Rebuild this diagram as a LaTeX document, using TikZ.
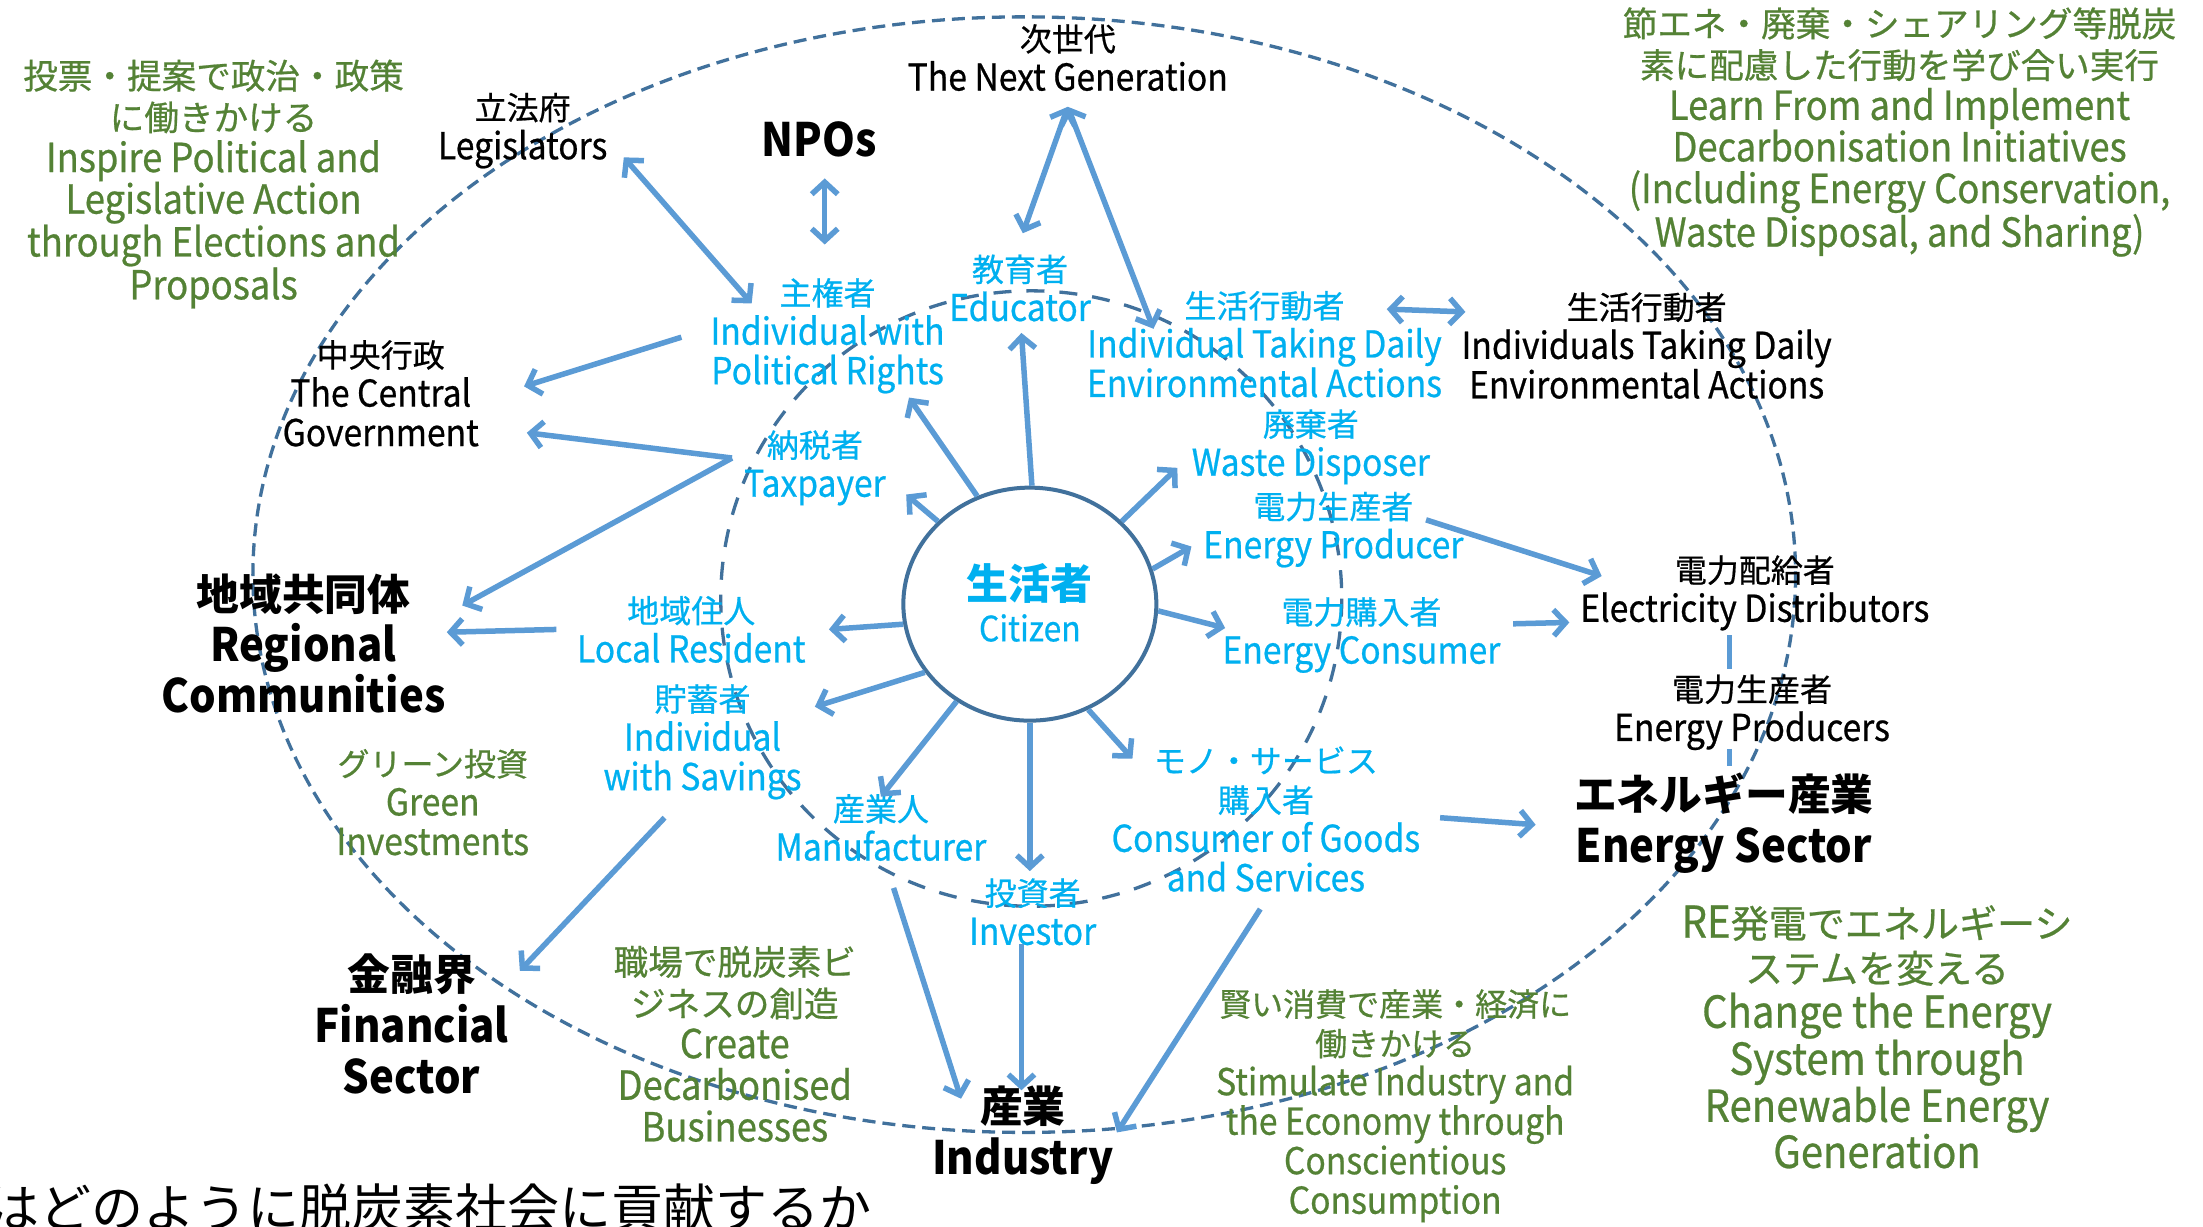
\documentclass[tikz,border=0pt]{standalone}
\usepackage{fontspec}
\setmainfont{Noto Sans CJK JP}[FakeStretch=0.91,UprightFeatures={FakeBold=0.6}]
\newfontfamily\jpfont{Noto Sans CJK JP}[Scale=0.865,UprightFeatures={FakeBold=0.6}]
\newfontfamily\jpbigfont{Noto Sans CJK JP}[Scale=0.93]
\newfontfamily\jpraw{Noto Sans CJK JP}
\usetikzlibrary{arrows.meta,shapes.geometric}
\definecolor{grn}{HTML}{548235}
\definecolor{cyn}{HTML}{00B0F0}
\definecolor{arw}{HTML}{5B9BD5}
\definecolor{dsh}{HTML}{41719C}
\newcommand\jp[1]{{\jpfont #1}}
\newcommand\jpb[1]{{\jpbigfont\bfseries #1}}
\begin{document}
\begin{tikzpicture}[x=1.405pt,y=-1.405pt,
  lbl/.style={align=center,inner sep=0pt,font=\fontsize{37}{39.5}\selectfont},
  big/.style={align=center,inner sep=0pt,text=black,font=\bfseries\fontsize{46}{51.3}\selectfont},
  blk/.style={lbl,text=black},
  cy/.style={lbl,text=cyn},
  gr/.style={lbl,text=grn},
  grl/.style={align=center,inner sep=0pt,text=grn,font=\fontsize{40}{41.6}\selectfont},
  grx/.style={align=center,inner sep=0pt,text=grn,font=\fontsize{44}{45}\selectfont},
  tipb/.tip={Straight Barb[length=12pt,width=26pt]},
  arr/.style={draw=arw,line width=5.5pt,-tipb},
  darr/.style={draw=arw,line width=5.5pt,tipb-tipb},
  ln/.style={draw=arw,line width=4.5pt},
]
\fill[white] (0,0) rectangle (1568,873);
\useasboundingbox (0,0) rectangle (1568,873);

% dashed ellipses
\draw[dsh,line width=3.3pt,dash pattern=on 13pt off 7pt] (729,409) ellipse [x radius=549,y radius=397];
\draw[dsh,line width=3.3pt,dash pattern=on 18pt off 15pt] (734,426) ellipse [x radius=221,y radius=219];

% citizen circle
\node[draw=dsh,line width=4pt,ellipse,minimum width=253pt,minimum height=233pt,inner sep=0pt] (cit) at (733,430) {};
\node[inner sep=0pt,text=cyn,font=\jpraw\bfseries\fontsize{42}{42}\selectfont] (citj) at (733,415) {生活者};
\node[inner sep=0pt,text=cyn,font=\fontsize{35}{35}\selectfont] (cite) at (733,447) {Citizen};

% black labels
\node[blk] (nextgen) at (760,41) {\jp{次世代}\\The Next Generation};
\node[blk] (leg) at (372,93) {\jp{立法府}\\Legislators};
\node[big] (npo) at (583,99) {NPOs};
\node[blk] (gov) at (271,280) {\jp{中央行政}\\The Central\\Government};
\node[big] (reg) at (216,458) {\jpb{地域共同体}\\Regional\\Communities};
\node[big] (fin) at (293,729) {\jpb{金融界}\\Financial\\Sector};
\node[big] (ind) at (728,808) {\jpb{産業}\\Industry};
\node[big] (ensec) at (1227,586) {\jpb{エネルギー産業}\\Energy Sector};
\node[blk] (actors) at (1172,246) {\jp{生活行動者}\\Individuals Taking Daily\\Environmental Actions};
\node[blk] (dist) at (1249,422) {\jp{電力配給者}\\Electricity Distributors};
\node[blk] (prod) at (1247,507) {\jp{電力生産者}\\Energy Producers};

% cyan labels
\node[cy] (sov) at (589,239) {\jp{主権者}\\Individual with\\Political Rights};
\node[cy] (edu) at (726,205) {\jp{教育者}\\Educator};
\node[cy] (act) at (900,245) {\jp{生活行動者}\\Individual Taking Daily\\Environmental Actions};
\node[cy] (waste) at (933,318) {\jp{廃棄者}\\Waste Disposer};
\node[cy] (eprod) at (949,377) {\jp{電力生産者}\\Energy Producer};
\node[cy] (econ) at (969,452) {\jp{電力購入者}\\Energy Consumer};
\node[cy] (goods) at (901,583) {\jp{モノ・サービス}\\\jp{購入者}\\Consumer of Goods\\and Services};
\node[cy] (inv) at (735,649) {\jp{投資者}\\Investor};
\node[cy] (manu) at (627,589) {\jp{産業人}\\Manufacturer};
\node[cy] (sav) at (500,528) {\jp{貯蓄者}\\Individual\\with Savings};
\node[cy] (res) at (492,448) {\jp{地域住人}\\Local Resident};
\node[cy] (tax) at (580,333) {\jp{納税者}\\Taxpayer};

% green notes
\node[grl] (g1) at (152,131) {\jp{投票・提案で政治・政策}\\\jp{に働きかける}\\Inspire Political and\\Legislative Action\\through Elections and\\Proposals};
\node[grl] (g2) at (1352,94) {\jp{節エネ・廃棄・シェアリング等脱炭}\\\jp{素に配慮した行動を学び合い実行}\\Learn From and Implement\\Decarbonisation Initiatives\\(Including Energy Conservation,\\Waste Disposal, and Sharing)};
\node[gr] (g3) at (308,571) {\jp{グリーン投資}\\Green\\Investments};
\node[grl] (g4) at (523,743) {\jp{職場で脱炭素ビ}\\\jp{ジネスの創造}\\Create\\Decarbonised\\Businesses};
\node[gr] (g5) at (993,787) {\jp{賢い消費で産業・経済に}\\\jp{働きかける}\\Stimulate Industry and\\the Economy through\\Conscientious\\Consumption};
\node[grx] (g6) at (1336,738) {RE\jp{発電でエネルギーシ}\\\jp{ステムを変える}\\Change the Energy\\System through\\Renewable Energy\\Generation};

% bottom title (cut off at the edges, as in the reference)
\node[anchor=west,inner sep=0pt,font=\jpraw\fontsize{52}{52}\selectfont] (title) at (-9,860) {はどのように脱炭素社会に貢献するか};

% connector end points
\coordinate (legA) at (444,112); \coordinate (sovA) at (535,216);
\coordinate (npoA) at (587,127); \coordinate (sovB) at (587,174);
\coordinate (ngA) at (760,76); \coordinate (eduA) at (728,166); \coordinate (actA) at (821,234);
\coordinate (actB) at (987,220); \coordinate (actorsA) at (1043,222);
\coordinate (sovC) at (485,240); \coordinate (govA) at (373,275);
\coordinate (taxA) at (521,326); \coordinate (govB) at (375,308); \coordinate (regA) at (329,431);
\coordinate (resA) at (396,448); \coordinate (regB) at (318,450);
\coordinate (savA) at (473,582); \coordinate (finA) at (370,691);
\coordinate (manuA) at (636,632); \coordinate (indA) at (684,782);
\coordinate (invA) at (727,672); \coordinate (indB) at (727,776);
\coordinate (goodsA) at (897,647); \coordinate (indC) at (795,806);
\coordinate (goodsB) at (1025,582); \coordinate (ensecA) at (1093,587);
\coordinate (eprodA) at (1015,370); \coordinate (distA) at (1140,410);
\coordinate (econA) at (1077,444); \coordinate (distB) at (1117,443);
\coordinate (distC) at (1231,452); \coordinate (prodA) at (1231,476);
\coordinate (prodB) at (1231,533); \coordinate (ensecB) at (1231,545);

% outer connectors
\draw[darr] (legA) -- (sovA);
\draw[darr] (npoA) -- (sovB);
\draw[darr] (ngA) -- (eduA);
\draw[darr] (ngA) -- (actA);
\draw[darr] (actB) -- (actorsA);
\draw[arr] (sovC) -- (govA);
\draw[arr] (taxA) -- (govB);
\draw[arr] (taxA) -- (regA);
\draw[arr] (resA) -- (regB);
\draw[arr] (savA) -- (finA);
\draw[arr] (manuA) -- (indA);
\draw[arr] (invA) -- (indB);
\draw[arr] (goodsA) -- (indC);
\draw[arr] (goodsB) -- (ensecA);
\draw[arr] (eprodA) -- (distA);
\draw[arr] (econA) -- (distB);
\draw[ln] (distC) -- (prodA);
\draw[ln] (prodB) -- (ensecB);

% citizen connectors
\draw[arr] (cit.89) -- (727,237) coordinate (eduB);
\draw[arr] (cit.116) -- (647,283) coordinate (sovD);
\draw[arr] (cit.138) -- (645,352) coordinate (taxB);
\draw[arr] (cit.42) -- (838,333) coordinate (wasteA);
\draw[arr] (cit.16) -- (848,389) coordinate (eprodB);
\draw[arr] (cit.-3) -- (872,447) coordinate (econB);
\draw[arr] (cit.189) -- (590,448) coordinate (resB);
\draw[arr] (cit.213) -- (580,503) coordinate (savB);
\draw[arr] (cit.233) -- (627,567) coordinate (manuB);
\draw[arr] (cit.270) -- (733,620) coordinate (invB);
\draw[arr] (cit.299) -- (806,540) coordinate (goodsC);
\end{tikzpicture}
\end{document}
